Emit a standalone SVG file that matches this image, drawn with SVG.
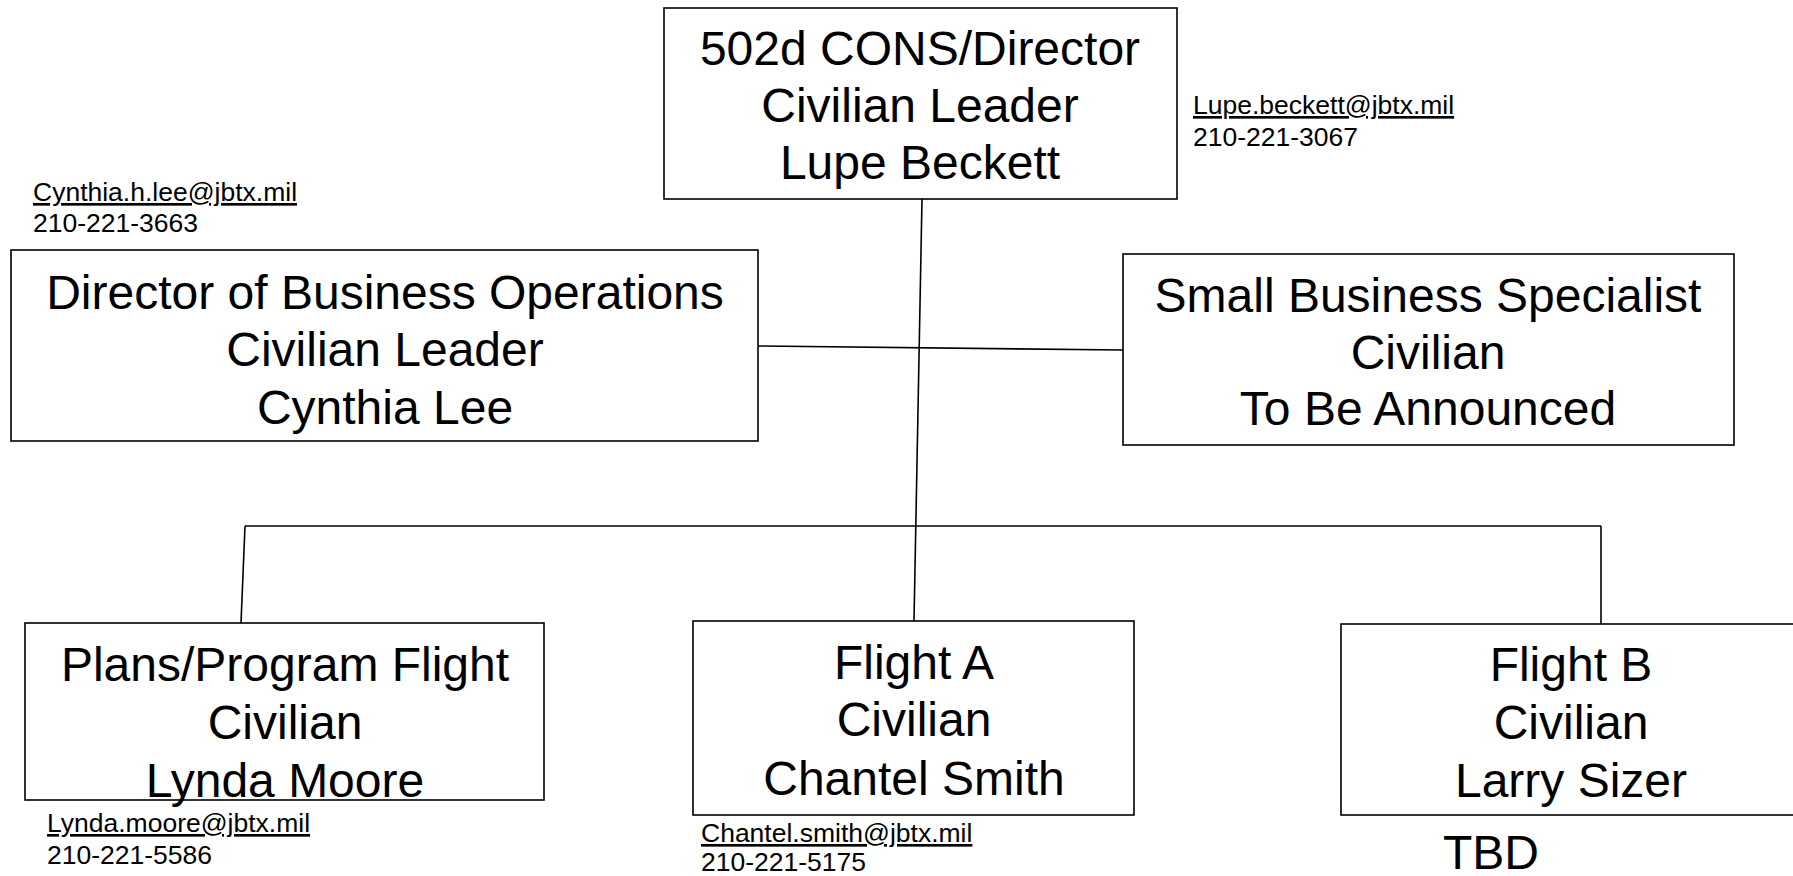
<svg xmlns="http://www.w3.org/2000/svg" width="1793" height="876" viewBox="0 0 1793 876">
<style>
.box{fill:#fff;stroke:#000;stroke-width:1.6}
.t{font-family:"Liberation Sans",Arial,sans-serif;font-size:48px;fill:#000;text-anchor:middle}
.s{font-family:"Liberation Sans",Arial,sans-serif;font-size:26.5px;fill:#000}
.u{text-decoration:underline}
.c{stroke:#000;stroke-width:1.6;fill:none}
</style>
<rect width="1793" height="876" fill="#fff"/>
<g id="connectors">
<line class="c" x1="922" y1="199" x2="914" y2="621"/>
<line class="c" x1="758" y1="346" x2="1123" y2="350"/>
<line class="c" x1="245" y1="526" x2="1601" y2="526"/>
<line class="c" x1="245" y1="526" x2="241" y2="623"/>
<line class="c" x1="1601" y1="526" x2="1601" y2="624"/>
</g>
<g id="director">
<rect class="box" x="664" y="8" width="513" height="191"/>
<text class="t" x="920" y="65">502d CONS/Director</text>
<text class="t" x="920" y="122">Civilian Leader</text>
<text class="t" x="920" y="179">Lupe Beckett</text>
<text class="s u" x="1193" y="114">Lupe.beckett@jbtx.mil</text>
<text class="s" x="1193" y="146">210-221-3067</text>
</g>
<g id="business-ops">
<rect class="box" x="11" y="250" width="747" height="191"/>
<text class="t" x="385" y="309">Director of Business Operations</text>
<text class="t" x="385" y="366">Civilian Leader</text>
<text class="t" x="385" y="424">Cynthia Lee</text>
<text class="s u" x="33" y="201">Cynthia.h.lee@jbtx.mil</text>
<text class="s" x="33" y="232">210-221-3663</text>
</g>
<g id="small-business">
<rect class="box" x="1123" y="254" width="611" height="191"/>
<text class="t" x="1428" y="312">Small Business Specialist</text>
<text class="t" x="1428" y="369">Civilian</text>
<text class="t" x="1428" y="425">To Be Announced</text>
</g>
<g id="plans-program">
<rect class="box" x="25" y="623" width="519" height="177"/>
<text class="t" x="285" y="681">Plans/Program Flight</text>
<text class="t" x="285" y="739">Civilian</text>
<text class="t" x="285" y="797">Lynda Moore</text>
<text class="s u" x="47" y="832">Lynda.moore@jbtx.mil</text>
<text class="s" x="47" y="864">210-221-5586</text>
</g>
<g id="flight-a">
<rect class="box" x="693" y="621" width="441" height="194"/>
<text class="t" x="914" y="679">Flight A</text>
<text class="t" x="914" y="736">Civilian</text>
<text class="t" x="914" y="795">Chantel Smith</text>
<text class="s u" x="701" y="842">Chantel.smith@jbtx.mil</text>
<text class="s" x="701" y="871">210-221-5175</text>
</g>
<g id="flight-b">
<rect class="box" x="1341" y="624" width="470" height="191"/>
<text class="t" x="1571" y="681">Flight B</text>
<text class="t" x="1571" y="739">Civilian</text>
<text class="t" x="1571" y="797">Larry Sizer</text>
<text class="t" x="1443" y="869" style="text-anchor:start">TBD</text>
</g>
</svg>
